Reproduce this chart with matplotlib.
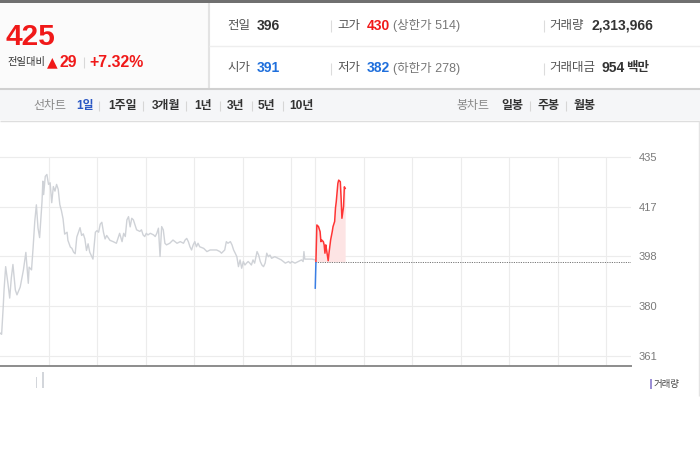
import numpy as np
import matplotlib
matplotlib.use('Agg')
import matplotlib.pyplot as plt
from matplotlib.patches import Rectangle

plt.rcParams['font.family'] = ['Liberation Sans', 'Noto Sans CJK KR', 'DejaVu Sans']

# ---------------- data ----------------
prev_minutes = [0, 2, 4, 5, 7, 10, 12, 14, 16, 19, 21, 25, 29, 32, 35, 36, 39, 41, 43, 45,
                47, 49, 52, 53, 54, 56, 58, 60, 62, 64, 66, 68, 70, 72, 74, 76, 78, 80, 83, 84,
                87, 89, 91, 93, 95, 97, 99, 101, 103, 105, 107, 109, 111, 115, 118, 120, 122, 124, 126, 128,
                130, 132, 136, 140, 144, 148, 151, 153, 155, 157, 159, 161, 163, 165, 167, 169, 173, 175, 177, 179,
                181, 183, 186, 190, 192, 194, 196, 198, 200, 202, 204, 206, 210, 214, 219, 223, 227, 229, 231, 233,
                235, 237, 239, 241, 243, 245, 247, 252, 256, 260, 264, 268, 272, 274, 278, 280, 282, 285, 287, 289,
                291, 293, 295, 297, 299, 301, 303, 305, 307, 309, 311, 313, 315, 318, 320, 322, 324, 326, 328, 330,
                332, 334, 336, 340, 344, 348, 353, 357, 359, 361, 365, 369, 373, 375, 376, 377, 381, 386, 390]
prev_prices = [369.5, 369.0, 379.3, 385.5, 394.2, 387.5, 382.5, 390.0, 395.0, 385.5, 383.7, 386.6, 393.0, 399.5, 388.0, 394.0, 393.0, 401.5, 411.0, 417.2,
               408.6, 405.0, 418.5, 426.0, 421.0, 427.8, 428.5, 424.8, 425.4, 418.0, 424.0, 422.3, 424.8, 423.0, 417.3, 415.0, 412.0, 406.3, 407.0, 404.0,
               401.5, 401.0, 399.6, 399.0, 405.2, 407.0, 408.7, 405.8, 406.4, 404.5, 400.2, 402.7, 399.6, 397.0, 407.0, 407.6, 407.0, 410.0, 410.7, 407.0,
               404.5, 405.8, 404.0, 403.5, 402.9, 406.6, 403.5, 406.6, 405.4, 411.6, 412.8, 409.0, 412.2, 411.6, 409.8, 407.9, 407.3, 407.9, 406.0, 405.4,
               406.6, 406.0, 406.6, 406.0, 405.4, 406.6, 408.5, 398.0, 409.1, 407.9, 402.9, 402.3, 402.9, 404.1, 402.9, 403.5, 402.9, 404.1, 404.7, 403.5,
               401.6, 400.4, 402.3, 403.5, 401.6, 402.9, 401.6, 401.0, 399.8, 400.4, 400.4, 400.4, 399.8, 399.2, 400.4, 403.5, 402.9, 403.5, 402.3, 400.4,
               399.2, 397.9, 394.2, 396.7, 393.6, 396.1, 394.8, 395.5, 396.1, 395.5, 394.8, 396.7, 395.5, 399.8, 398.5, 396.1, 394.8, 394.2, 395.5, 399.2,
               397.9, 398.5, 397.3, 397.9, 397.3, 396.7, 395.5, 396.1, 395.5, 396.1, 395.5, 396.1, 396.7, 396.1, 399.8, 397.0, 397.0, 397.0, 396.7]

today_minutes = [0, 2, 4, 6, 7, 8, 10, 11, 12, 13, 14, 16, 17, 19, 21, 22, 24, 25, 26, 28, 29, 31, 32, 33, 35, 36, 37]
today_prices = [386.2, 409.7, 409.1, 407.2, 403.5, 404.1, 403.5, 402.3, 399.2, 402.3, 400.4, 396.4, 399.2, 404.1, 407.2,
                409.1, 411.0, 415.9, 418.4, 425.2, 426.4, 425.8, 419.6, 412.2, 416.5, 423.9, 423.3]

prev_close = 396
session_minutes = 390

vol_minutes = [45, 53]
vol_values = [52000, 76000]

price_ticks = [361, 379.5, 398, 416.5, 435]
price_tick_labels = ['361', '380', '398', '417', '435']
hour_ticks = [60, 120, 180, 240, 300, 360, 390, 450, 510, 570, 630, 690, 750]

cur_price = '425'
change = '29'
change_pct = '+7.32%'
row1 = [('전일', '396', '#333333', None), ('고가', '430', '#f01919', '(상한가 514)'), ('거래량', '2,313,966', '#333333', None)]
row2 = [('시가', '391', '#1f6fdc', None), ('저가', '382', '#1f6fdc', '(하한가 278)'), ('거래대금', '954', '#333333', '백만')]
line_tabs = ['1일', '1주일', '3개월', '1년', '3년', '5년', '10년']
candle_tabs = ['일봉', '주봉', '월봉']

RED = '#f01919'
GRAY_LINE = '#cfd2d7'

# ---------------- figure ----------------
fig = plt.figure(figsize=(7, 4.5), dpi=100)
bg = fig.add_axes([0, 0, 1, 1])
bg.set_xlim(0, 700)
bg.set_ylim(450, 0)
bg.axis('off')

def rect(x, y, w, h, c):
    bg.add_patch(Rectangle((x, y), w, h, facecolor=c, edgecolor='none'))

def hl(y, x0, x1, c, lw):
    bg.plot([x0, x1], [y, y], color=c, lw=lw, solid_capstyle='butt')

def vl(x, y0, y1, c, lw):
    bg.plot([x, x], [y0, y1], color=c, lw=lw, solid_capstyle='butt')

# header frame
rect(0, 0, 700, 2.5, '#707070')
rect(0, 2.5, 208, 86, '#fbfbfb')
vl(208.5, 2.5, 88, '#e3e3e3', 1.5)
hl(46, 209, 700, '#eeeeee', 1)
hl(88.5, 0, 700, '#d0d0d0', 1.5)
rect(0, 89.2, 700, 31, '#f5f6f8')
hl(120.5, 0, 700, '#dedede', 1)
vl(699.3, 121, 396, '#e4e4e4', 1)

# big price
bg.text(6, 37, cur_price, fontsize=21.5, fontweight='bold', color=RED, va='center', ha='left')
bg.text(7, 62, '전일대비', fontsize=7.4, color='#333333', va='center', ha='left')
bg.text(47, 62, '▲', fontsize=10, color=RED, va='center', ha='left', family=['DejaVu Sans'])
bg.text(59.5, 62.5, change, fontsize=11.4, fontweight='bold', color=RED, va='center', ha='left')
vl(83.5, 57, 68, '#d8d8d8', 0.8)
bg.text(89, 62.5, change_pct, fontsize=11.4, fontweight='bold', color=RED, va='center', ha='left')

# info rows
col_label_x = [227, 337, 549]
col_val_x = [257, 367, 591]
for rowy, row in ((25.5, row1), (68.5, row2)):
    for i, (lab, val, vc, extra) in enumerate(row):
        bg.text(col_label_x[i], rowy, lab, fontsize=9, color='#555555', va='center', ha='left')
        vx = col_val_x[i] + (11 if lab == '거래대금' else 0)
        bg.text(vx, rowy, val, fontsize=10, fontweight='bold', color=vc, va='center', ha='left')
        if extra is not None:
            if lab == '거래대금':
                bg.text(626, rowy, extra, fontsize=9, fontweight='bold', color='#333333', va='center', ha='left')
            else:
                bg.text(393, rowy, extra, fontsize=9, color='#777777', va='center', ha='left')
    for sx in (330.5, 544):
        vl(sx, rowy - 6, rowy + 6, '#dcdcdc', 0.8)

# tabs
tab_y = 106
bg.text(33, tab_y, '선차트', fontsize=8.6, color='#888888', va='center', ha='left')
tab_x = [76, 108, 152, 194, 227, 258, 289]
sep_x = [99, 143, 186, 220, 252, 283]
for i, (tx, lab) in enumerate(zip(tab_x, line_tabs)):
    col = '#2a57c4' if i == 0 else '#333333'
    bg.text(tx, tab_y, lab, fontsize=8.6, fontweight='bold', color=col, va='center', ha='left')
for sx in sep_x:
    vl(sx, tab_y - 5, tab_y + 5, '#d6d6d6', 0.8)
bg.text(456, tab_y, '봉차트', fontsize=8.6, color='#888888', va='center', ha='left')
for tx, lab in zip([501, 537, 573], candle_tabs):
    bg.text(tx, tab_y, lab, fontsize=8.6, fontweight='bold', color='#333333', va='center', ha='left')
for sx in (529.5, 566):
    vl(sx, tab_y - 5, tab_y + 5, '#d6d6d6', 0.8)

# volume legend
rect(650, 379, 2, 10, '#9b8fd4')
bg.text(654, 384, '거래량', fontsize=6.8, color='#444444', va='center', ha='left')

# ---------------- price chart ----------------
W, H = 700.0, 450.0
ax = fig.add_axes([0, (H - 366) / H, 630.5 / W, (366 - 121) / H])
ax.patch.set_alpha(0)
ymin = 435 - (366 - 157) / 2.687
ymax = 435 + (157 - 121) / 2.687
ax.set_ylim(ymin, ymax)
ax.set_xlim(0, 2 * session_minutes)

for yv in price_ticks:
    ax.axhline(yv, color='#ececec', lw=0.8, zorder=0)
ax.vlines(hour_ticks, ymin, price_ticks[-1], color='#ececec', lw=0.8, zorder=0)

pm = np.array(prev_minutes, dtype=float)
ax.plot(pm, prev_prices, color=GRAY_LINE, lw=1.0, zorder=2)

tm = np.array(today_minutes, dtype=float) + session_minutes
tp = np.array(today_prices)
ax.fill_between(tm, tp, prev_close, where=tp >= prev_close, interpolate=True,
                color='#fde4e4', lw=0, zorder=1)
ax.hlines(prev_close, session_minutes, 2 * session_minutes, colors='#777777',
          linestyles=(0, (1.2, 1.2)), lw=0.7, zorder=2)
red_line, = ax.plot(tm, tp, color='#ff3434', lw=1.1, zorder=3)
red_line.set_clip_path(Rectangle((0, prev_close), 2 * session_minutes, 200, transform=ax.transData))
blue_line, = ax.plot(tm, tp, color='#3a7ee4', lw=1.1, zorder=3)
blue_line.set_clip_path(Rectangle((0, ymin - 50), 2 * session_minutes, prev_close - ymin + 50, transform=ax.transData))

ax.yaxis.tick_right()
ax.set_yticks(price_ticks)
ax.set_yticklabels(price_tick_labels)
ax.tick_params(axis='y', length=0, pad=6, labelsize=8, labelcolor='#7a7a7a')
ax.set_xticks([])
for s in ('top', 'left', 'right'):
    ax.spines[s].set_visible(False)
ax.spines['bottom'].set_color('#8c8c8c')
ax.spines['bottom'].set_linewidth(1.4)

# ---------------- volume pane ----------------
vax = fig.add_axes([0, (H - 388) / H, 630.5 / W, (388 - 367) / H])
vax.patch.set_alpha(0)
vax.set_xlim(0, 2 * session_minutes)
vax.set_ylim(0, 100000)
vax.bar(vol_minutes, vol_values, width=1.8, color='#d3d6db', lw=0)
vax.axis('off')

fig.savefig('out.png', dpi=100)
